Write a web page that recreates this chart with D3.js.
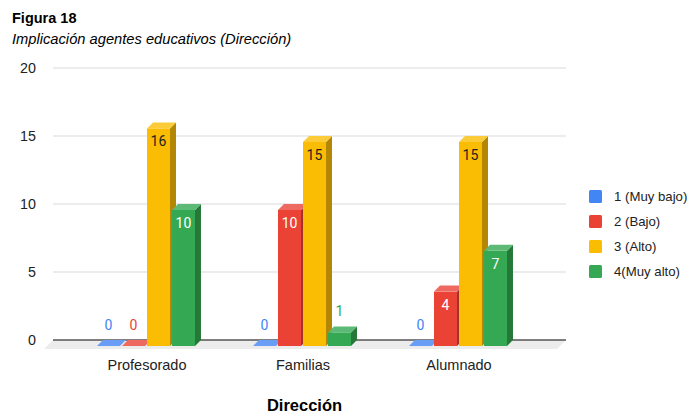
<!DOCTYPE html>
<html>
<head>
<meta charset="utf-8">
<script src="https://cdn.jsdelivr.net/npm/d3@7"></script>
<style>
  html, body { margin: 0; padding: 0; background: #fff; }
  svg { display: block; font-family: "Liberation Sans", Arial, sans-serif; }
</style>
</head>
<body>
<svg id="chart" width="696" height="414"></svg>
<script>
// Categories, series and values
const categories = ["Profesorado", "Familias", "Alumnado"];
const seriesNames = ["1 (Muy bajo)", "2 (Bajo)", "3 (Alto)", "4(Muy alto)"];
const muyBajo = [0, 0, 0];
const bajo = [0, 10, 4];
const alto = [16, 15, 15];
const muyAlto = [10, 1, 7];
const yTicks = [0, 5, 10, 15, 20];

const seriesValues = [muyBajo, bajo, alto, muyAlto];
const colors = ["#4285F4", "#EA4335", "#FBBC04", "#34A853"];
const topColors = ["#6A9EF6", "#EE6A60", "#FCCB3A", "#5DBA76"];
const sideColors = ["#2F5FAE", "#A6302A", "#B38603", "#257838"];
const insideText = ["#ffffff", "#ffffff", "#222222", "#ffffff"];

const svg = d3.select("#chart");
const depth = 6;       // 3D offset of bars
const floorDepth = 9;  // 3D offset of floor

const y = d3.scaleLinear().domain([0, 20]).range([340, 68]);
const x0 = d3.scaleBand().domain(categories).range([68, 536]).paddingInner(0.372).paddingOuter(0.186);
const x1 = d3.scaleBand().domain(d3.range(seriesNames.length)).range([0, x0.bandwidth()]).paddingInner(0.08);

const plotLeft = 53, plotRight = 566;

// Titles
svg.append("text").attr("x", 12).attr("y", 23).attr("font-size", 14.5).attr("font-weight", "bold")
  .attr("fill", "#000").text("Figura 18");
svg.append("text").attr("x", 12).attr("y", 44).attr("font-size", 14.7).attr("font-style", "italic")
  .attr("fill", "#000").text("Implicación agentes educativos (Dirección)");

// Floor
const y0 = y(0);
svg.append("polygon")
  .attr("points", [[plotLeft, y0], [plotRight, y0], [plotRight - floorDepth, y0 + floorDepth], [plotLeft - floorDepth, y0 + floorDepth]].map(p => p.join(",")).join(" "))
  .attr("fill", "#ececec");

// Gridlines and y labels
const gridG = svg.append("g");
yTicks.forEach(t => {
  if (t !== 0) {
    gridG.append("line").attr("x1", plotLeft).attr("x2", plotRight)
      .attr("y1", y(t)).attr("y2", y(t)).attr("stroke", "#d9d9d9").attr("stroke-width", 1);
  }
  gridG.append("text").attr("x", 36).attr("y", y(t)).attr("dy", "0.35em")
    .attr("text-anchor", "end").attr("font-size", 14.3).attr("fill", "#222").text(t);
});
svg.append("line").attr("x1", plotLeft).attr("x2", plotRight).attr("y1", y0).attr("y2", y0)
  .attr("stroke", "#555").attr("stroke-width", 1.6);

// Bars
const barsG = svg.append("g");
categories.forEach((cat, ci) => {
  seriesValues.forEach((vals, si) => {
    const v = vals[ci];
    const w = x1.bandwidth();
    const xf = x0(cat) + x1(si);
    const yf = y(v) + depth;        // front top
    const yb = y0 + depth;          // front bottom
    const g = barsG.append("g");
    if (v > 0) {
      // side face
      g.append("polygon")
        .attr("points", [[xf + w, yf], [xf + w + depth, yf - depth], [xf + w + depth, y0], [xf + w, yb]].map(p => p.join(",")).join(" "))
        .attr("fill", sideColors[si]);
      // front face
      g.append("rect").attr("x", xf).attr("y", yf).attr("width", w).attr("height", yb - yf)
        .attr("fill", colors[si]);
    }
    // top face
    g.append("polygon")
      .attr("points", [[xf, yf], [xf + w, yf], [xf + w + depth, yf - depth], [xf + depth, yf - depth]].map(p => p.join(",")).join(" "))
      .attr("fill", topColors[si]);
    // value label
    const inside = (yb - yf) > 30;
    g.append("text")
      .attr("x", xf + w / 2)
      .attr("y", inside ? yf + 18 : yf - 16)
      .attr("text-anchor", "middle")
      .attr("font-family", "Roboto, sans-serif")
      .attr("font-size", 14)
      .attr("fill", inside ? insideText[si] : colors[si])
      .text(v);
  });
});

// Category labels
categories.forEach(cat => {
  svg.append("text").attr("x", x0(cat) + x0.bandwidth() / 2 + 1).attr("y", 370)
    .attr("text-anchor", "middle").attr("font-size", 14.5).attr("fill", "#222").text(cat);
});

// Axis title
svg.append("text").attr("x", 304.5).attr("y", 411).attr("text-anchor", "middle")
  .attr("font-size", 16.5).attr("font-weight", "bold").attr("fill", "#000").text("Dirección");

// Legend
const legend = svg.append("g");
seriesNames.forEach((name, i) => {
  const ly = 190 + i * 25;
  legend.append("rect").attr("x", 589).attr("y", ly).attr("width", 13).attr("height", 13)
    .attr("rx", 1.5).attr("fill", colors[i]);
  legend.append("text").attr("x", 614).attr("y", ly + 6.5).attr("dy", "0.35em")
    .attr("font-size", 13.2).attr("fill", "#222").text(name);
});
</script>
</body>
</html>
